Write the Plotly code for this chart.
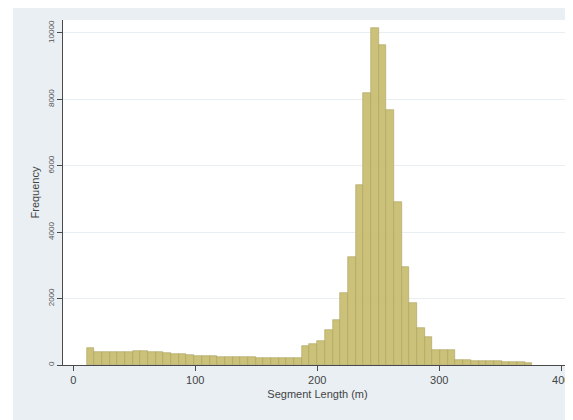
import plotly.graph_objects as go

# Histogram of segment lengths (m): bins of equal width starting at bin_start
bin_start = 10.9
bin_width = 6.3
counts = [
    510, 400, 390, 380, 385, 395, 420, 430, 400, 380,
    360, 340, 320, 300, 285, 270, 260, 250, 245, 240,
    235, 230, 225, 220, 215, 210, 205, 200,
    560, 640, 720, 1050, 1350, 2170, 3250, 5420, 8190, 10150,
    9640, 7680, 4900, 2950, 1870, 1120, 850, 450, 450, 450,
    150, 140, 130, 125, 120, 110, 100, 95, 85, 75,
]
x_ticks = [0, 100, 200, 300, 400]
y_ticks = [0, 2000, 4000, 6000, 8000, 10000]

centers = [bin_start + bin_width * (i + 0.5) for i in range(len(counts))]

fig = go.Figure()
fig.add_trace(go.Bar(
    x=centers, y=counts, width=bin_width,
    marker=dict(color="rgb(204,193,120)", line=dict(color="rgb(170,160,95)", width=0.6)),
    hoverinfo="skip",
))

font_family = "Liberation Sans, Arial, sans-serif"
# the page body adds an 8 px margin, so the figure is 8 px smaller each way
L, R, T, B = 55, 1, 12, 55
W, H = 565, 412
pw, ph = W - L - R, H - T - B

# thin white strip at the left edge of the image
fig.add_shape(type="rect", xref="paper", yref="paper", layer="below",
              x0=-L / pw, x1=(5 - L) / pw, y0=-B / ph, y1=(H - B) / ph,
              fillcolor="white", line=dict(width=0))

fig.update_layout(
    width=W, height=H,
    margin=dict(l=L, r=R, t=T, b=B, autoexpand=False),
    paper_bgcolor="#e9eff3", plot_bgcolor="white",
    bargap=0, showlegend=False,
    font=dict(family=font_family, color="#333333"),
    xaxis=dict(
        automargin=False,
        range=[-8.4, 408.8], tickvals=x_ticks, ticktext=[str(v) for v in x_ticks],
        showgrid=False, zeroline=False,
        showline=True, linecolor="#4a4a4a", linewidth=1,
        ticks="outside", ticklen=5, tickcolor="#4a4a4a",
        tickfont=dict(size=11, color="#444444"),
        title=dict(text="Segment Length (m)", font=dict(size=11, color="#444444"), standoff=5),
    ),
    yaxis=dict(
        automargin=False,
        range=[0, 10390], tickvals=y_ticks, ticktext=[str(v) for v in y_ticks],
        tickangle=-90,
        showgrid=True, gridcolor="#e8eff2", gridwidth=1, zeroline=False,
        showline=True, linecolor="#4a4a4a", linewidth=1,
        ticks="outside", ticklen=5, tickcolor="#4a4a4a",
        tickfont=dict(size=8, color="#555555"),
        title=dict(text="Frequency", font=dict(size=11, color="#444444"), standoff=4),
    ),
)

fig.write_html("out.html")
